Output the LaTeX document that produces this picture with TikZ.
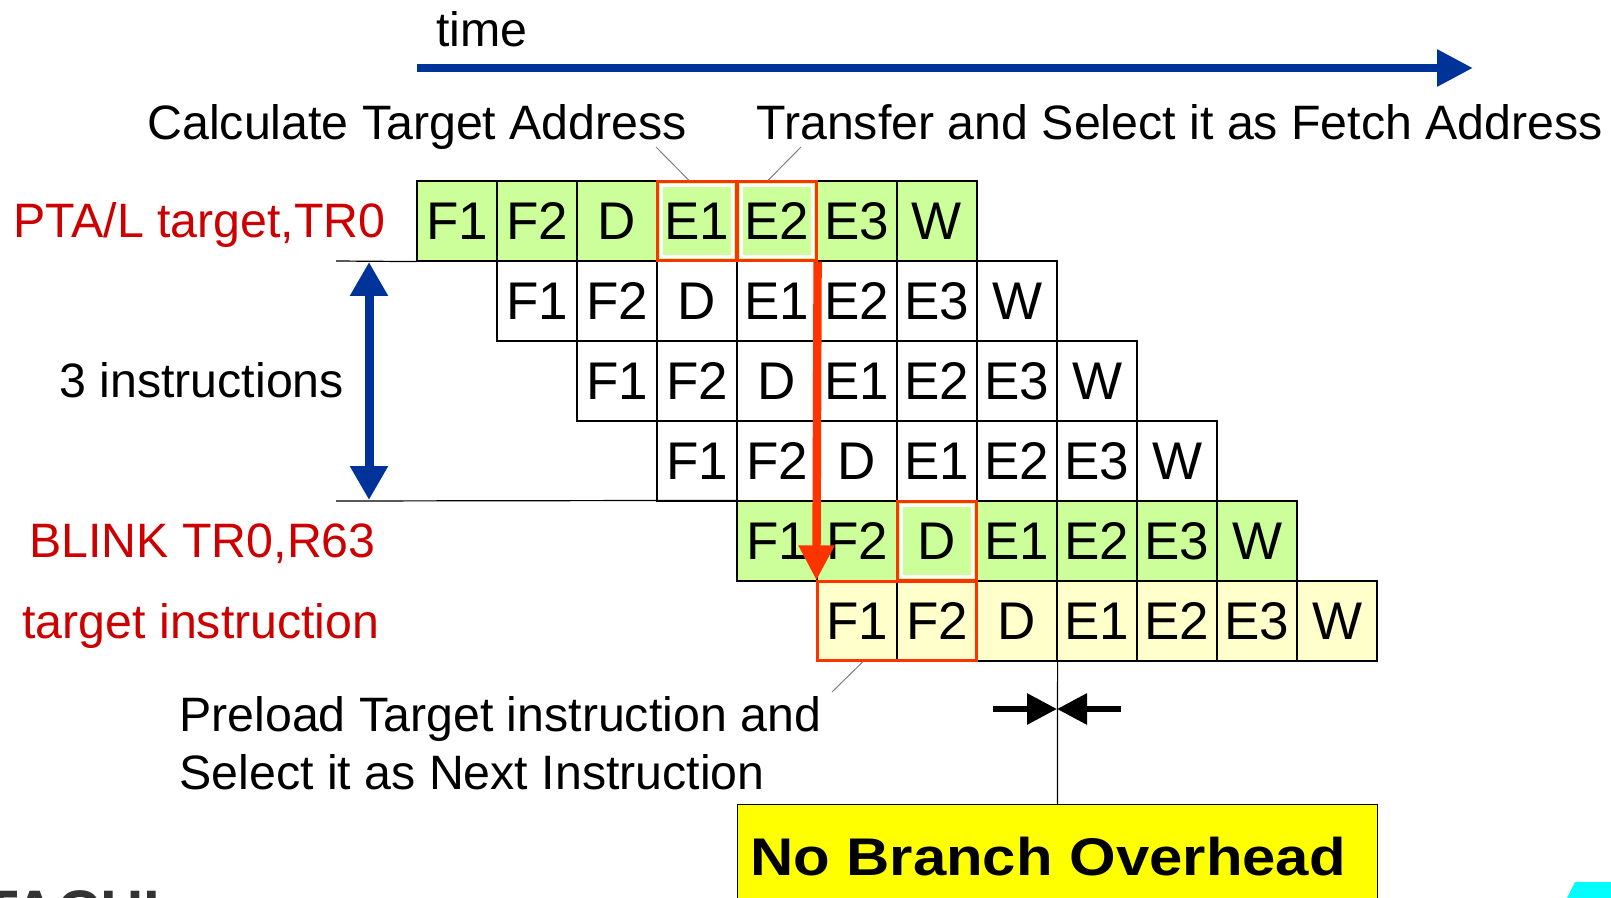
\documentclass[tikz,border=0pt]{standalone}
\usepackage{fontspec}
\usepackage{graphicx}
\setmainfont{Liberation Sans}
\usetikzlibrary{arrows.meta}
\definecolor{cellgreen}{RGB}{204,255,153}
\definecolor{cellyellow}{RGB}{255,255,204}
\definecolor{hlred}{RGB}{255,51,0}
\definecolor{labelred}{RGB}{204,0,0}
\definecolor{timeblue}{RGB}{0,51,153}
\definecolor{boxyellow}{RGB}{255,255,0}
\definecolor{logogray}{RGB}{51,51,51}
\definecolor{logocyan}{RGB}{0,255,255}
\tikzset{
  cell/.style={draw, line width=0.6pt, minimum size=40pt, inner sep=0pt, font=\fontsize{26.5}{30}\selectfont},
  txt/.style={inner sep=0pt, anchor=base west, font=\fontsize{24.15}{28}\selectfont},
  hlbox/.style={draw=hlred, line width=1.5pt},
  leader/.style={draw=gray, line width=0.5pt},
  timearrow/.style={color=timeblue, line width=4.35pt, >={Triangle[width=17.5pt,length=18pt]}, ->},
  spanarrow/.style={color=timeblue, line width=4.5pt, >={Triangle[width=18pt,length=17pt]}, <->},
  jumparrow/.style={color=hlred, line width=4.2pt, >={Triangle[width=17pt,length=17.5pt]}, ->},
  gaparrow/.style={color=black, line width=3pt, >={Triangle[width=15pt,length=15pt]}, ->}
}
\begin{document}
\begin{tikzpicture}[x=0.5pt, y=-0.5pt]
	\useasboundingbox (0,0) rectangle (1611,898);
	\clip (0,0) rectangle (1611,898);
	\coordinate (t0) at (417,68);
	\coordinate (t1) at (1473,68);
	\draw[timearrow] (t0) -- (t1);
	\node[txt] (time) at (436,47) {time};
	\node[txt] (calc) at (147,140) {Calculate Target Address};
	\node[txt] (trans) at (756,140) {Transfer and Select it as Fetch Address};
	\node[txt, text=labelred] (pta) at (13,238) {PTA/L target,TR0};
	\node[txt] (three) at (59,398) {3 instructions};
	\node[txt, text=labelred] (blink) at (29,557) {BLINK TR0,R63};
	\node[txt, text=labelred] (tgt) at (22,638) {target instruction};
	\node[txt] (preA) at (179,731) {Preload Target instruction and};
	\node[txt] (preB) at (179,789) {Select it as Next Instruction};
	\foreach \r/\rowfill in {0/cellgreen,1/white,2/white,3/white,4/cellgreen,5/cellyellow}
		\foreach \s [count=\k from 0] in {F1,F2,D,E1,E2,E3,W}
			\node[cell, fill=\rowfill] (c\r\k) at ({457+80*\r+80*\k},{221+80*\r}) {\s};
	\foreach \n in {c03,c04,c42} {
		\draw[white, line width=1.5pt] ([shift={(5,5)}]\n.north west) rectangle ([shift={(-5,-5)}]\n.south east);
		\draw[hlbox] ([shift={(1,1)}]\n.north west) rectangle ([shift={(-1,-1)}]\n.south east);
	}
	\draw[hlbox] ([shift={(1,1)}]c50.north west) rectangle ([shift={(-1,-1)}]c51.south east);
	\coordinate (lineA) at (336,261);
	\coordinate (lineB) at (336,501);
	\draw[line width=0.6pt] (lineA) -- (c00.south west);
	\draw[line width=0.6pt] (lineB) -- (c40.north west);
	\coordinate (spantop) at (369,262);
	\coordinate (spanbot) at (369,500);
	\draw[spanarrow] (spantop) -- (spanbot);
	\coordinate (lcalc) at (656,147);
	\coordinate (ltrans) at (801,147);
	\coordinate (lpre) at (832,692);
	\draw[leader] (lcalc) -- ([xshift=-4pt]c03.north);
	\draw[leader] (ltrans) -- ([xshift=-4.5pt]c04.north);
	\draw[leader] ([xshift=3pt]c50.south) -- (lpre);
	\draw[jumparrow] (c04.south east) -- (c50.north west);
	\node[draw, line width=0.5pt, fill=boxyellow, minimum width=320pt, minimum height=60pt, anchor=north west, inner sep=0pt] (nobox) at (737,804) {};
	\node[inner sep=0pt, anchor=base] (notxt) at (1048,875) {\fontsize{26.5}{30}\selectfont\bfseries\scalebox{1.13}[1]{No Branch Overhead}};
	\draw[line width=0.6pt] (c52.south east) -- (nobox.north);
	\coordinate (gapL) at (993,709);
	\coordinate (gapR) at (1121,709);
	\coordinate (gapM) at (1057,709);
	\draw[gaparrow] (gapL) -- (gapM);
	\draw[gaparrow] (gapR) -- (gapM);
	\node[inner sep=0pt, anchor=base east, text=logogray, font=\fontsize{30}{34}\selectfont\bfseries] (logo) at (161,932) {HITACHI};
	\fill[logocyan] (1567,898) -- (1575,882) -- (1611,882) -- (1611,898) -- cycle;
\end{tikzpicture}
\end{document}
